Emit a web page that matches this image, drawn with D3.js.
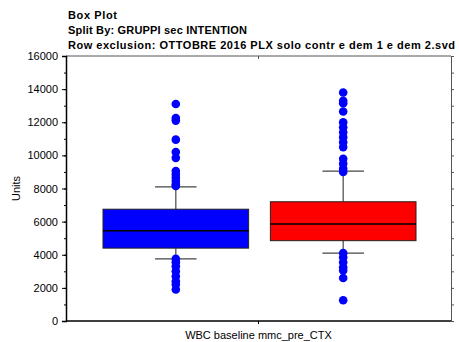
<!DOCTYPE html>
<html>
<head>
<meta charset="utf-8">
<script src="https://cdn.jsdelivr.net/npm/d3@7"></script>
<style>
  body { margin: 0; background: #fff; }
  svg text { font-family: "Liberation Sans", Arial, sans-serif; fill: #000; }
</style>
</head>
<body>
<svg width="459" height="342"></svg>
<script>
// ---- data ----
var titleLines = ["Box Plot", "Split By: GRUPPI sec INTENTION",
                  "Row exclusion: OTTOBRE 2016 PLX solo contr e dem 1 e dem 2.svd"];
var groups = ["A", "B"];
var boxColors = ["#0000ff", "#ff0000"];
var lowerWhisker = [3750, 4100];
var q1 = [4400, 4850];
var median = [5450, 5850];
var q3 = [6750, 7200];
var upperWhisker = [8100, 9050];
var outliersA = [13100, 12250, 12100, 10950, 10200, 9850, 9050, 8850, 8650, 8450, 8250, 8150,
                 3750, 3550, 3300, 3000, 2700, 2400, 2200, 1900];
var outliersB = [13800, 13300, 13150, 12650, 12000, 11700, 11400, 11100, 10800, 10500,
                 9800, 9500, 9200, 9000,
                 4100, 3850, 3550, 3250, 3050, 2600, 1250];
var yTicks = [0, 2000, 4000, 6000, 8000, 10000, 12000, 14000, 16000];
var xLabel = "WBC baseline mmc_pre_CTX";
var yLabel = "Units";

var svg = d3.select("svg");
var margin = { top: 56, left: 66, bottom: 21, right: 8 };
var W = 459, H = 342;
var titleWidths = [49, 179, 387]; // the original prints titles loosely spaced

var yScale = d3.scaleLinear().domain([0, 16000]).range([H - margin.bottom, margin.top]);
var xScale = d3.scaleBand().domain(groups)
    .range([margin.left + 37, W - margin.right - 35]).paddingInner(0.13);

// titles
svg.selectAll(".title").data(titleLines).enter()
    .append("text")
    .attr("class", "title")
    .attr("x", 68)
    .attr("y", function(d, i) { return 19 + i * 15; })
    .attr("textLength", function(d, i) { return titleWidths[i]; })
    .attr("lengthAdjust", "spacing")
    .style("font-size", "11px")
    .style("font-weight", "bold")
    .text(function(d) { return d; });

// frame: top and right in grey
svg.append("line")
    .attr("x1", margin.left).attr("x2", W - margin.right)
    .attr("y1", margin.top).attr("y2", margin.top)
    .attr("stroke", "#555").attr("stroke-width", 1);
var yAxisRight = d3.axisRight(yScale).ticks(16).tickSize(3).tickFormat("");
svg.append("g")
    .attr("transform", "translate(" + (W - margin.right) + ",0)")
    .call(yAxisRight)
    .call(function(g) { g.selectAll("line,path").attr("stroke", "#555"); });

// left axis with minor ticks
var yMinor = d3.axisLeft(yScale).ticks(16).tickSize(2).tickFormat("");
svg.append("g")
    .attr("transform", "translate(" + margin.left + ",0)")
    .call(yMinor);
var yAxis = d3.axisLeft(yScale).tickValues(yTicks).tickSize(4).tickFormat(d3.format("d"));
svg.append("g")
    .attr("class", "y axis")
    .attr("transform", "translate(" + margin.left + ",0)")
    .call(yAxis)
    .call(function(g) {
        g.selectAll(".tick text").attr("dx", -1).style("font-size", "11px")
            .style("font-family", "Liberation Sans, Arial, sans-serif");
        g.select(".domain").attr("stroke-width", 1.5);
    });

// bottom axis
var xMid = (margin.left + W - margin.right) / 2;
svg.append("line")
    .attr("x1", margin.left).attr("x2", W - margin.right)
    .attr("y1", yScale(0)).attr("y2", yScale(0))
    .attr("stroke", "#000").attr("stroke-width", 1.5);
svg.append("line")
    .attr("x1", xMid).attr("x2", xMid)
    .attr("y1", yScale(0)).attr("y2", yScale(0) + 3)
    .attr("stroke", "#000");
svg.append("line")
    .attr("x1", xMid).attr("x2", xMid)
    .attr("y1", margin.top).attr("y2", margin.top + 3)
    .attr("stroke", "#555");

svg.append("text")
    .attr("x", xMid).attr("y", 339)
    .attr("text-anchor", "middle")
    .style("font-size", "11px")
    .text(xLabel);
svg.append("text")
    .attr("transform", "translate(20," + yScale(8000) + ") rotate(-90)")
    .attr("text-anchor", "middle")
    .style("font-size", "11px")
    .text(yLabel);

// boxes
var boxes = groups.map(function(g, i) {
    return { g: g, lw: lowerWhisker[i], q1: q1[i], med: median[i], q3: q3[i],
             uw: upperWhisker[i], color: boxColors[i], out: i === 0 ? outliersA : outliersB };
});
var bw = xScale.bandwidth();
var capW = bw * 0.285;

var bg = svg.selectAll(".box").data(boxes).enter()
    .append("g").attr("class", "box");

function cx(d) { return xScale(d.g) + bw / 2; }

bg.append("line")
    .attr("x1", cx).attr("x2", cx)
    .attr("y1", function(d) { return yScale(d.uw); })
    .attr("y2", function(d) { return yScale(d.q3); })
    .attr("stroke", "#555").attr("stroke-width", 1.3);
bg.append("line")
    .attr("x1", cx).attr("x2", cx)
    .attr("y1", function(d) { return yScale(d.lw); })
    .attr("y2", function(d) { return yScale(d.q1); })
    .attr("stroke", "#555").attr("stroke-width", 1.3);
bg.selectAll(".cap").data(function(d) { return [d.uw, d.lw].map(function(v) { return { d: d, v: v }; }); })
    .enter().append("line")
    .attr("x1", function(o) { return cx(o.d) - capW / 2; })
    .attr("x2", function(o) { return cx(o.d) + capW / 2; })
    .attr("y1", function(o) { return yScale(o.v); })
    .attr("y2", function(o) { return yScale(o.v); })
    .attr("stroke", "#444").attr("stroke-width", 1.3);

bg.append("rect")
    .attr("x", function(d) { return xScale(d.g); })
    .attr("width", bw)
    .attr("y", function(d) { return yScale(d.q3); })
    .attr("height", function(d) { return yScale(d.q1) - yScale(d.q3); })
    .attr("fill", function(d) { return d.color; })
    .attr("stroke", "#222").attr("stroke-width", 1);
bg.append("line")
    .attr("x1", function(d) { return xScale(d.g); })
    .attr("x2", function(d) { return xScale(d.g) + bw; })
    .attr("y1", function(d) { return yScale(d.med); })
    .attr("y2", function(d) { return yScale(d.med); })
    .attr("stroke", "#000").attr("stroke-width", 1.5);

bg.selectAll(".out").data(function(d) { return d.out.map(function(v) { return { d: d, v: v }; }); })
    .enter().append("circle")
    .attr("cx", function(o) { return cx(o.d); })
    .attr("cy", function(o) { return yScale(o.v); })
    .attr("r", 4.3)
    .attr("fill", "#0000ff");
</script>
</body>
</html>
